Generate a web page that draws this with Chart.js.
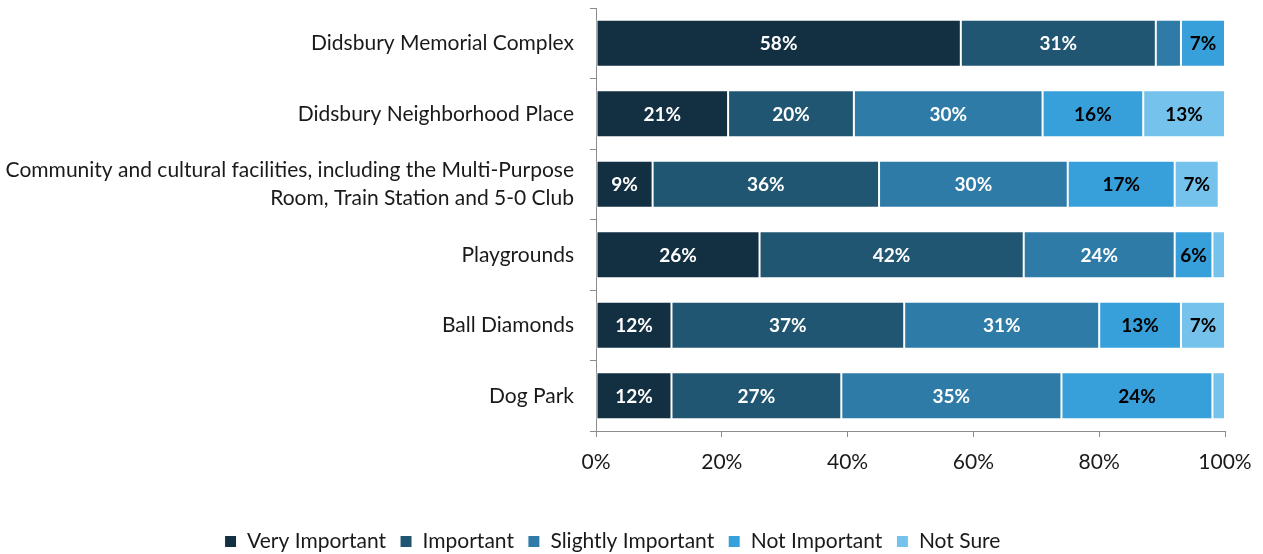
<!DOCTYPE html>
<html>
<head>
<meta charset="utf-8">
<script src="https://cdn.jsdelivr.net/npm/chart.js@4"></script>
<style>
    html, body { margin: 0; padding: 0; background: #ffffff; }
    #wrap { width: 1263px; height: 554px; }
</style>
</head>
<body>
<div id="wrap"><canvas id="importanceChart"></canvas></div>
<script>
/* ==========================================
   DATA
========================================== */

const facilities = [
    "Didsbury Memorial Complex",
    "Didsbury Neighborhood Place",
    ["Community and cultural facilities, including the Multi-Purpose", "Room, Train Station and 5-0 Club"],
    "Playgrounds",
    "Ball Diamonds",
    "Dog Park"
];

const responseLabels = ["Very Important", "Important", "Slightly Important", "Not Important", "Not Sure"];

const veryImportant     = [58, 21,  9, 26, 12, 12];
const important         = [31, 20, 36, 42, 37, 27];
const slightlyImportant = [ 4, 30, 30, 24, 31, 35];
const notImportant      = [ 7, 16, 17,  6, 13, 24];
const notSure           = [ 0, 13,  7,  2,  7,  2];

const xTicks = [0, 20, 40, 60, 80, 100];

const colors = ["#132f42", "#215673", "#2e7ba8", "#379fd9", "#75c3ec"];
const labelColors = ["#ffffff", "#ffffff", "#ffffff", "#000000", "#000000"];

const FONT = "Lato, 'Open Sans', sans-serif";


/* ==========================================
   VALUE LABELS INSIDE BARS
========================================== */

const barLabels = {
    id: "barLabels",
    afterDatasetsDraw(chart) {
        const ctx = chart.ctx;
        ctx.save();
        ctx.font = "bold 19px " + FONT;
        ctx.textAlign = "center";
        ctx.textBaseline = "middle";
        chart.data.datasets.forEach((ds, i) => {
            const meta = chart.getDatasetMeta(i);
            meta.data.forEach((bar, j) => {
                const v = ds.data[j];
                if (v < 5) return;
                const x = (bar.x + bar.base) / 2;
                ctx.fillStyle = labelColors[i];
                ctx.fillText(v + "%", x, bar.y + 1);
            });
        });
        ctx.restore();
    }
};


/* ==========================================
   STACKED BAR CHART
========================================== */

const series = [veryImportant, important, slightlyImportant, notImportant, notSure];

new Chart(document.getElementById("importanceChart"), {

    type: "bar",

    data: {
        labels: facilities,
        datasets: series.map((values, i) => ({
            label: responseLabels[i],
            data: values,
            backgroundColor: colors[i],
            borderColor: "#ffffff",
            borderWidth: 1,
            borderSkipped: false,
            barPercentage: 0.67,
            categoryPercentage: 1
        }))
    },

    options: {
        indexAxis: "y",
        responsive: true,
        maintainAspectRatio: false,
        animation: false,
        layout: {
            padding: { top: 8, right: 38, bottom: -8, left: 0 }
        },
        plugins: {
            legend: {
                position: "bottom",
                labels: {
                    color: "#1a1a1a",
                    font: { family: FONT, size: 21 },
                    boxWidth: 12,
                    boxHeight: 12,
                    padding: 14
                }
            },
            tooltip: { enabled: false }
        },
        scales: {
            x: {
                stacked: true,
                min: 0,
                max: 100,
                afterBuildTicks(scale) {
                    scale.ticks = xTicks.map(v => ({ value: v }));
                },
                afterFit(scale) {
                    scale.height = 86;
                    scale.paddingLeft = 0;
                    scale.paddingRight = 0;
                },
                ticks: {
                    color: "#1a1a1a",
                    font: { family: FONT, size: 21 },
                    padding: 13,
                    callback: v => v + "%"
                },
                grid: {
                    drawOnChartArea: false,
                    color: "#8c8c8c",
                    tickLength: 6
                },
                border: { color: "#8c8c8c" }
            },
            y: {
                stacked: true,
                afterFit(scale) {
                    scale.width = 596;
                    scale.paddingTop = 0;
                    scale.paddingBottom = 0;
                },
                ticks: {
                    color: "#1a1a1a",
                    font: { family: FONT, size: 21, lineHeight: 1.33 },
                    padding: 16
                },
                grid: {
                    offset: true,
                    drawOnChartArea: false,
                    color: "#8c8c8c",
                    tickLength: 6
                },
                border: { color: "#8c8c8c" }
            }
        }
    },

    plugins: [barLabels]

});
</script>
</body>
</html>
